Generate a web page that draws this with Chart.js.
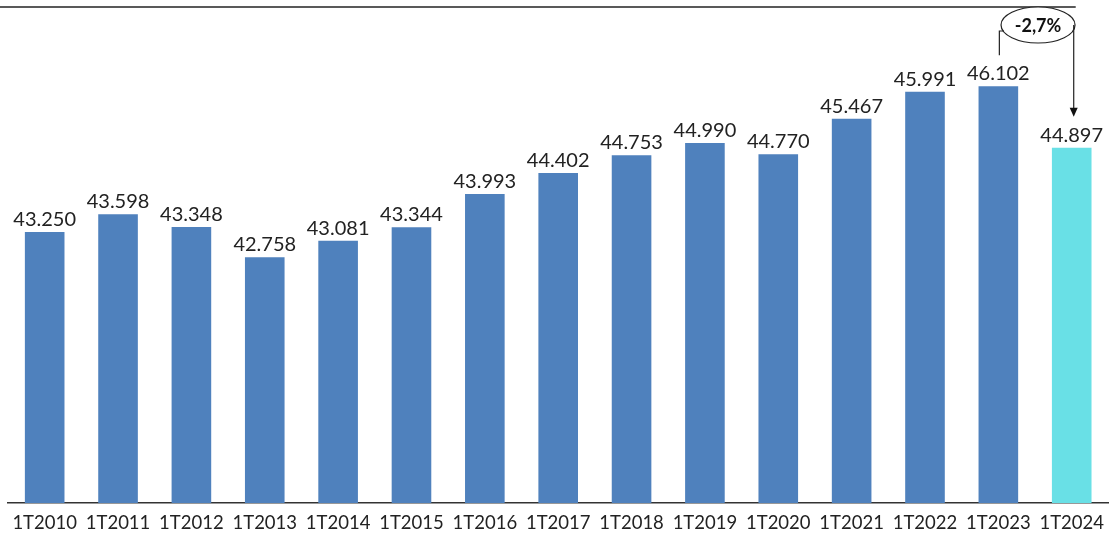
<!DOCTYPE html>
<html>
<head>
<meta charset="utf-8">
<script src="https://cdn.jsdelivr.net/npm/chart.js@4"></script>
<style>
  html, body { margin: 0; padding: 0; background: #fff; }
  #wrap { width: 1113px; height: 537px; position: relative; }
</style>
</head>
<body>
<div id="wrap"><canvas id="empChart"></canvas></div>
<script>
const categories = ['1T2010', '1T2011', '1T2012', '1T2013', '1T2014', '1T2015', '1T2016', '1T2017',
  '1T2018', '1T2019', '1T2020', '1T2021', '1T2022', '1T2023', '1T2024'];
const values = [43250, 43598, 43348, 42758, 43081, 43344, 43993, 44402,
  44753, 44990, 44770, 45467, 45991, 46102, 44897];
const changeLabel = '-2,7%';

const barColors = values.map(function (v, i) {
  return i === values.length - 1 ? '#69E0E6' : '#4F81BD';
});

function fmt(v) {
  return v.toLocaleString('de-DE');
}

// value labels over each bar
const valueLabels = {
  id: 'valueLabels',
  afterDatasetsDraw(chart) {
    const ctx = chart.ctx;
    const meta = chart.getDatasetMeta(0);
    ctx.save();
    ctx.font = '20px Lato';
    ctx.fillStyle = '#222';
    ctx.textAlign = 'center';
    ctx.textBaseline = 'alphabetic';
    meta.data.forEach(function (bar, i) {
      ctx.fillText(fmt(values[i]), bar.x, bar.y - 6);
    });
    ctx.restore();
  }
};

// top rule + change callout between the last two bars
const callout = {
  id: 'callout',
  afterDraw(chart) {
    const ctx = chart.ctx;
    const meta = chart.getDatasetMeta(0);
    const n = meta.data.length;
    const prev = meta.data[n - 2];
    const last = meta.data[n - 1];
    const y = chart.scales.y;

    ctx.save();
    ctx.strokeStyle = '#222';
    ctx.lineWidth = 1.5;
    ctx.beginPath();
    ctx.moveTo(0, 7);
    ctx.lineTo(last.x + 4, 7);
    ctx.stroke();

    const cx = (prev.x + last.x) / 2 + 3;
    const cy = 25;
    const rx = 37, ry = 18;
    ctx.fillStyle = '#fff';
    ctx.lineWidth = 1.2;
    ctx.beginPath();
    ctx.ellipse(cx, cy, rx, ry, 0, 0, Math.PI * 2);
    ctx.fill();
    ctx.stroke();

    ctx.fillStyle = '#111';
    ctx.font = 'bold 18px Lato';
    ctx.textAlign = 'center';
    ctx.textBaseline = 'middle';
    ctx.fillText(changeLabel, cx, cy + 1);

    ctx.lineWidth = 1.2;
    // left leg from above the 1T2023 label
    const lx = prev.x + 1;
    ctx.beginPath();
    ctx.moveTo(lx, y.getPixelForValue(values[n - 2]) - 31);
    ctx.lineTo(lx, 31);
    ctx.lineTo(cx - rx + 3, 31);
    ctx.stroke();

    // right leg down to the 1T2024 label
    const ax = last.x + 2;
    const ay = y.getPixelForValue(values[n - 1]) - 31;
    ctx.beginPath();
    ctx.moveTo(ax, cy);
    ctx.lineTo(ax, ay - 6);
    ctx.stroke();
    ctx.fillStyle = '#111';
    ctx.beginPath();
    ctx.moveTo(ax, ay);
    ctx.lineTo(ax - 4, ay - 9);
    ctx.lineTo(ax + 4, ay - 9);
    ctx.closePath();
    ctx.fill();
    ctx.restore();
  }
};

new Chart(document.getElementById('empChart'), {
  type: 'bar',
  data: {
    labels: categories,
    datasets: [{
      data: values,
      backgroundColor: barColors,
      categoryPercentage: 1,
      barPercentage: 0.54
    }]
  },
  options: {
    responsive: true,
    maintainAspectRatio: false,
    animation: false,
    layout: { padding: { top: 7, left: 8, right: 0, bottom: 0 } },
    plugins: {
      legend: { display: false },
      tooltip: { enabled: false }
    },
    scales: {
      y: {
        display: false,
        min: 37950,
        max: 47650
      },
      x: {
        grid: { display: false, drawTicks: false },
        border: { display: true, color: '#333', width: 1.5 },
        afterFit: function (scale) { scale.height = 34; },
        ticks: {
          color: '#222',
          font: { family: 'Lato', size: 18.5 },
          padding: 9,
          maxRotation: 0,
          autoSkip: false
        }
      }
    }
  },
  plugins: [valueLabels, callout]
});
</script>
</body>
</html>
